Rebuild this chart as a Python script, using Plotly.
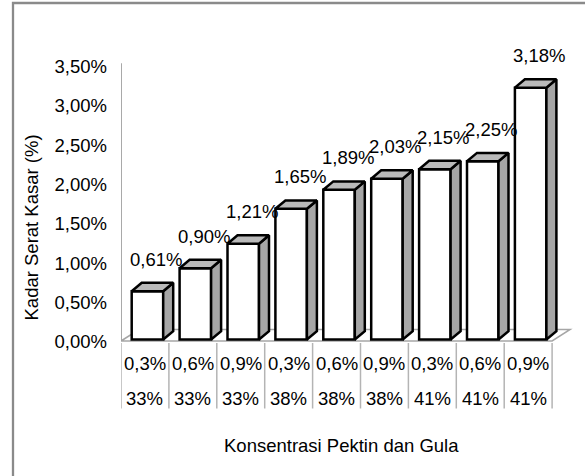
import plotly.graph_objects as go

# ---------------- data ----------------
pektin = ["0,3%", "0,6%", "0,9%", "0,3%", "0,6%", "0,9%", "0,3%", "0,6%", "0,9%"]
gula = ["33%", "33%", "33%", "38%", "38%", "38%", "41%", "41%", "41%"]
serat_kasar = [0.61, 0.90, 1.21, 1.65, 1.89, 2.03, 2.15, 2.25, 3.18]
value_labels = ["0,61%", "0,90%", "1,21%", "1,65%", "1,89%", "2,03%", "2,15%", "2,25%", "3,18%"]
y_tick_vals = [0, 0.5, 1.0, 1.5, 2.0, 2.5, 3.0, 3.5]
y_tick_text = ["0,00%", "0,50%", "1,00%", "1,50%", "2,00%", "2,50%", "3,00%", "3,50%"]
y_title = "Kadar Serat Kasar (%)"
x_title = "Konsentrasi Pektin dan Gula"

# ---------------- layout constants (pixels) ----------------
W, H = 585, 476
ML, MR, MT, MB = 121, 5, 40, 126
PW, PH = W - ML - MR, H - MT - MB
PX_X = 47.9          # px per category
PX_Y = 79.2          # px per 1 %
Y0_PX = 339.5        # pixel row of value 0
LBL0_PX, LBL35_PX = 342.0, 66.5   # pixel rows of tick labels 0 and 3.5

def ydat(px):
    return (Y0_PX - px) / PX_Y

def xpap(px):
    return (px - ML) / PW

def ypap(px):
    return (MT + PH - px) / PH

n = len(serat_kasar)
front_off = 10.7 / PX_X
front_w = 31.5 / PX_X
dx = 10.0 / PX_X
dy = 8.4 / PX_Y

FONT = "Liberation Sans, Arial, sans-serif"
FS = 18.5

fig = go.Figure()

# front faces
fig.add_trace(go.Bar(
    x=[i + front_off + front_w / 2 for i in range(n)],
    y=serat_kasar,
    width=front_w,
    marker=dict(color="white", line=dict(color="black", width=2.5)),
    hoverinfo="skip", showlegend=False,
))

# side faces
sx, sy = [], []
for i, v in enumerate(serat_kasar):
    xr = i + front_off + front_w
    sx += [xr, xr, xr + dx, xr + dx, xr, None]
    sy += [0, v, v + dy, dy, 0, None]
fig.add_trace(go.Scatter(x=sx, y=sy, mode="lines", fill="toself",
                         fillcolor="#a6a6a6", line=dict(color="black", width=2.5),
                         hoverinfo="skip", showlegend=False))

# top faces
tx, ty = [], []
for i, v in enumerate(serat_kasar):
    xl = i + front_off
    xr = xl + front_w
    tx += [xl, xr, xr + dx, xl + dx, xl, None]
    ty += [v, v, v + dy, v + dy, v, None]
fig.add_trace(go.Scatter(x=tx, y=ty, mode="lines", fill="toself",
                         fillcolor="#bababa", line=dict(color="black", width=2.5),
                         hoverinfo="skip", showlegend=False))

# invisible trace for label axis
fig.add_trace(go.Scatter(x=[None], y=[None], yaxis="y2", showlegend=False, hoverinfo="skip"))

shapes = []
# floor
f0, f1, fdx = ydat(341), ydat(329.5), 18 / PX_X
shapes.append(dict(type="path", xref="x", yref="y", layer="below",
                   path=f"M 0,{f0} L {n},{f0} L {n + fdx},{f1} L {fdx},{f1} Z",
                   line=dict(color="#a6a6a6", width=1.5)))
# y axis line
shapes.append(dict(type="line", xref="x", yref="y", layer="below",
                   x0=0, x1=0, y0=ydat(63.3), y1=ydat(341),
                   line=dict(color="#a0a0a0", width=1.8)))
# category dividers
for i in range(n + 1):
    shapes.append(dict(type="line", xref="x", yref="paper", x0=i, x1=i,
                       y0=ypap(343), y1=ypap(408.5),
                       line=dict(color="#b4b4b4", width=1.5)))
# outer border
shapes.append(dict(type="rect", xref="paper", yref="paper",
                   x0=xpap(13), x1=xpap(620), y0=ypap(3), y1=ypap(520),
                   line=dict(color="#8a8a8a", width=2.3)))

annotations = []
for i in range(n):
    annotations.append(dict(x=i + 0.5, y=ypap(363), xref="x", yref="paper",
                            text=pektin[i], showarrow=False, yanchor="middle",
                            font=dict(family=FONT, size=FS, color="black")))
    annotations.append(dict(x=i + 0.5, y=ypap(399), xref="x", yref="paper",
                            text=gula[i], showarrow=False, yanchor="middle",
                            font=dict(family=FONT, size=FS, color="black")))
    annotations.append(dict(x=i + front_off + front_w / 2, y=serat_kasar[i], xref="x", yref="y",
                            text=value_labels[i], showarrow=False, yanchor="middle",
                            xshift=8.5, yshift=32,
                            font=dict(family=FONT, size=FS, color="black")))
annotations.append(dict(x=xpap(31), y=ypap(227.5), xref="paper", yref="paper",
                        text=y_title, textangle=-90, showarrow=False,
                        xanchor="center", yanchor="middle",
                        font=dict(family=FONT, size=FS, color="black")))
annotations.append(dict(x=xpap(341.5), y=ypap(445.5), xref="paper", yref="paper",
                        text=x_title, showarrow=False,
                        xanchor="center", yanchor="middle",
                        font=dict(family=FONT, size=FS, color="black")))

k2 = (LBL0_PX - LBL35_PX) / 3.5
fig.update_layout(
    width=W, height=H,
    margin=dict(l=ML, r=MR, t=MT, b=MB, pad=0),
    paper_bgcolor="white", plot_bgcolor="white",
    showlegend=False,
    xaxis=dict(range=[0, PW / PX_X], visible=False, fixedrange=True),
    yaxis=dict(range=[ydat(MT + PH), ydat(MT)], visible=False, fixedrange=True),
    yaxis2=dict(overlaying="y", side="left",
                range=[-(MT + PH - LBL0_PX) / k2, (LBL0_PX - MT) / k2],
                tickvals=y_tick_vals, ticktext=y_tick_text, ticks="",
                ticklabelstandoff=13, fixedrange=True,
                showgrid=False, zeroline=False, showline=False,
                tickfont=dict(family=FONT, size=FS, color="black")),
    shapes=shapes,
    annotations=annotations,
    bargap=0,
)

fig.write_html("out.html", config={"displayModeBar": False, "staticPlot": True},
               post_script="document.body.style.margin='0px';")
